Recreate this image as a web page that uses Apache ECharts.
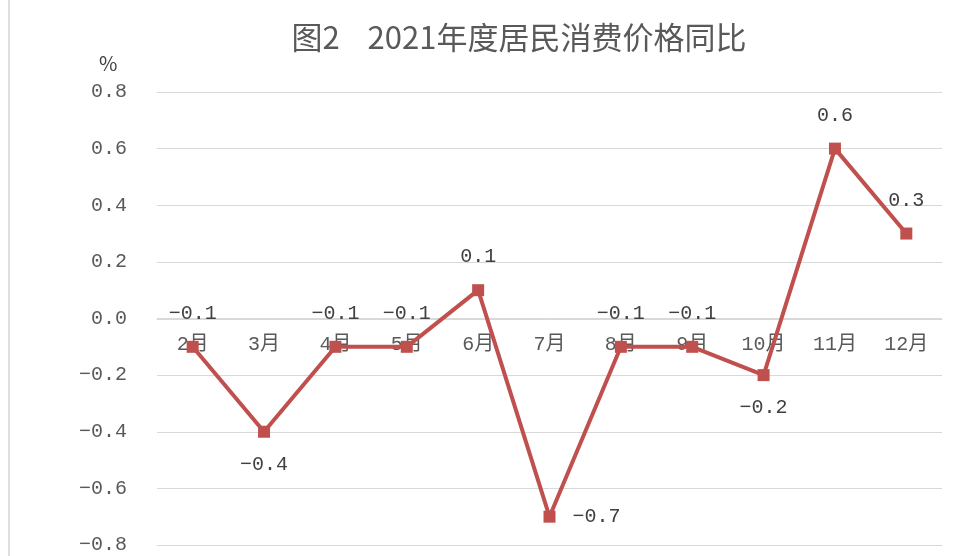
<!DOCTYPE html>
<html>
<head>
<meta charset="utf-8">
<script src="https://cdn.jsdelivr.net/npm/echarts@6/dist/echarts.min.js"></script>
<style>
  html, body { margin: 0; padding: 0; background: #fff; }
  #chart { width: 960px; height: 556px; }
</style>
</head>
<body>
<div id="chart"></div>
<script>
// 月份
var months = ['2月', '3月', '4月', '5月', '6月', '7月', '8月', '9月', '10月', '11月', '12月'];
// 同比 (%)
var values = [-0.1, -0.4, -0.1, -0.1, 0.1, -0.7, -0.1, -0.1, -0.2, 0.6, 0.3];
// 标签位置
var labelPos = ['top', 'bottom', 'top', 'top', 'top', 'right', 'top', 'top', 'bottom', 'top', 'top'];

var mono = '"Liberation Mono", "Noto Sans CJK SC", monospace';
var cjk = '"Noto Sans CJK SC", sans-serif';

var chart = echarts.init(document.getElementById('chart'));

var seriesData = values.map(function (v, i) {
    return { value: v, label: { position: labelPos[i] } };
});

function fmt(v) {
    return v.toFixed(1).replace('-', '−');
}

chart.setOption({
    animation: false,
    title: {
        text: '图2    2021年度居民消费价格同比',
        left: 514,
        top: 17,
        textAlign: 'center',
        textStyle: { fontFamily: cjk, fontSize: 31, fontWeight: 'normal', color: '#595959' }
    },
    graphic: [
        {
            type: 'line',
            shape: { x1: 9, y1: 0, x2: 9, y2: 556 },
            style: { stroke: '#dedede', lineWidth: 2 }
        },
        {
            type: 'text',
            left: 99,
            top: 53,
            style: { text: '%', fontFamily: cjk, fontSize: 20, fill: '#404040' }
        }
    ],
    grid: { left: 157, right: 18, top: 92, bottom: 11, outerBoundsMode: 'none', containLabel: false },
    xAxis: {
        type: 'category',
        data: months,
        position: 'bottom',
        offset: -226,
        axisLine: { onZero: false, lineStyle: { color: '#d9d9d9', width: 1 } },
        axisTick: { show: false },
        axisLabel: { margin: 16, fontFamily: mono, fontSize: 20, color: '#595959' }
    },
    yAxis: {
        type: 'value',
        min: -0.8,
        max: 0.8,
        interval: 0.2,
        axisLine: { show: false },
        axisTick: { show: false },
        splitLine: { lineStyle: { color: '#d9d9d9', width: 1 } },
        axisLabel: {
            margin: 30,
            fontFamily: mono,
            fontSize: 20,
            color: '#595959',
            formatter: fmt
        }
    },
    series: [{
        type: 'line',
        data: seriesData,
        symbol: 'rect',
        symbolSize: 12,
        lineStyle: { color: '#c0504d', width: 4 },
        itemStyle: { color: '#c0504d' },
        label: {
            show: true,
            distance: 17,
            fontFamily: mono,
            fontSize: 20,
            color: '#404040',
            formatter: function (p) { return fmt(p.value); }
        }
    }]
});
</script>
</body>
</html>
